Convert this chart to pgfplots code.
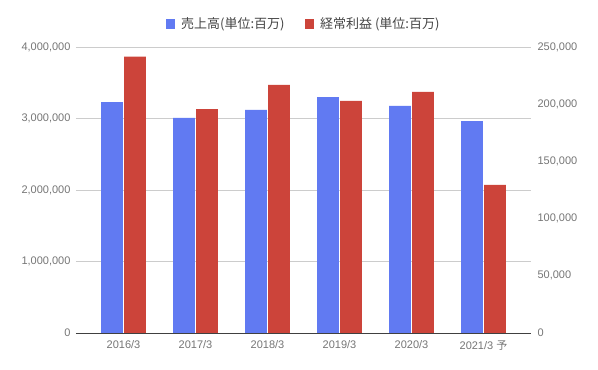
\documentclass[border=0pt]{standalone}
\usepackage{pgfplots}
\pgfplotsset{compat=1.18}
\usepackage{fontspec}
\setmainfont{Liberation Sans}
\newfontfamily\cjk{Noto Sans CJK JP}
\definecolor{cblue}{HTML}{617AF2}
\definecolor{cred}{HTML}{CC443A}
\definecolor{tickgray}{HTML}{757575}
\definecolor{gridgray}{HTML}{CCCCCC}
\definecolor{legtext}{HTML}{444444}
\pgfplotsset{
  common/.style={
    at={(76pt,37pt)}, anchor=south west, scale only axis,
    width=455pt, height=286pt,
    xmin=-0.66, xmax=5.66, ymin=0,
    ybar, bar width=0.3,
    major tick length=0pt,
    tick label style={font=\fontsize{11}{13}\selectfont, text=tickgray},
    /pgf/number format/assume math mode=true,
    yticklabel style={/pgf/number format/fixed, /pgf/number format/1000 sep={,}},
    scaled y ticks=false,
  },
  sqlegend/.style={legend image code/.code={\fill[##1] (0pt,-4.8pt) rectangle (9.6pt,4.8pt);}},
}
\begin{document}
\begin{tikzpicture}[x=1pt,y=1pt]
\path[use as bounding box] (0,0) rectangle (598,370);
\begin{axis}[common,
  ymax=4000000, ytick={0,1000000,2000000,3000000,4000000},
  axis y line*=left, axis x line*=bottom,
  y axis line style={draw=none},
  x axis line style={draw=black!75, line width=0.9pt},
  ymajorgrids, grid style={gridgray, line width=0.7pt},
  xtick={0,1,2,3,4,5},
  xticklabels={2016/3,2017/3,2018/3,2019/3,2020/3,{2021/3 {\cjk 予}}},
  xticklabel style={yshift=-4pt},
  yticklabel style={xshift=-2pt},
]
\addplot[fill=cblue, draw=none, bar shift=-0.16] coordinates {
  (0,3230000) (1,3007000) (2,3120000) (3,3300000) (4,3175000) (5,2965000)};
\end{axis}
\begin{axis}[common,
  ymax=250000, ytick={0,50000,100000,150000,200000,250000},
  axis y line*=right, axis x line=none,
  y axis line style={draw=none},
  xtick=\empty,
  yticklabel style={xshift=3pt},
  legend columns=2,
  legend style={at={(0.5,1)}, anchor=center, yshift=23pt, draw=none, fill=none,
    font=\cjk\fontsize{13}{15}\selectfont, text=legtext,
    /tikz/every odd column/.append style={column sep=4pt},
    /tikz/every even column/.append style={column sep=18pt}},
]
\addlegendimage{fill=cblue, draw=none, sqlegend}
\addlegendentry{売上高(単位:百万)}
\addplot[fill=cred, draw=none, bar shift=0.16, sqlegend] coordinates {
  (0,241500) (1,195800) (2,216800) (3,202800) (4,210700) (5,129400)};
\addlegendentry{経常利益 (単位:百万)}
\end{axis}
\end{tikzpicture}
\end{document}
